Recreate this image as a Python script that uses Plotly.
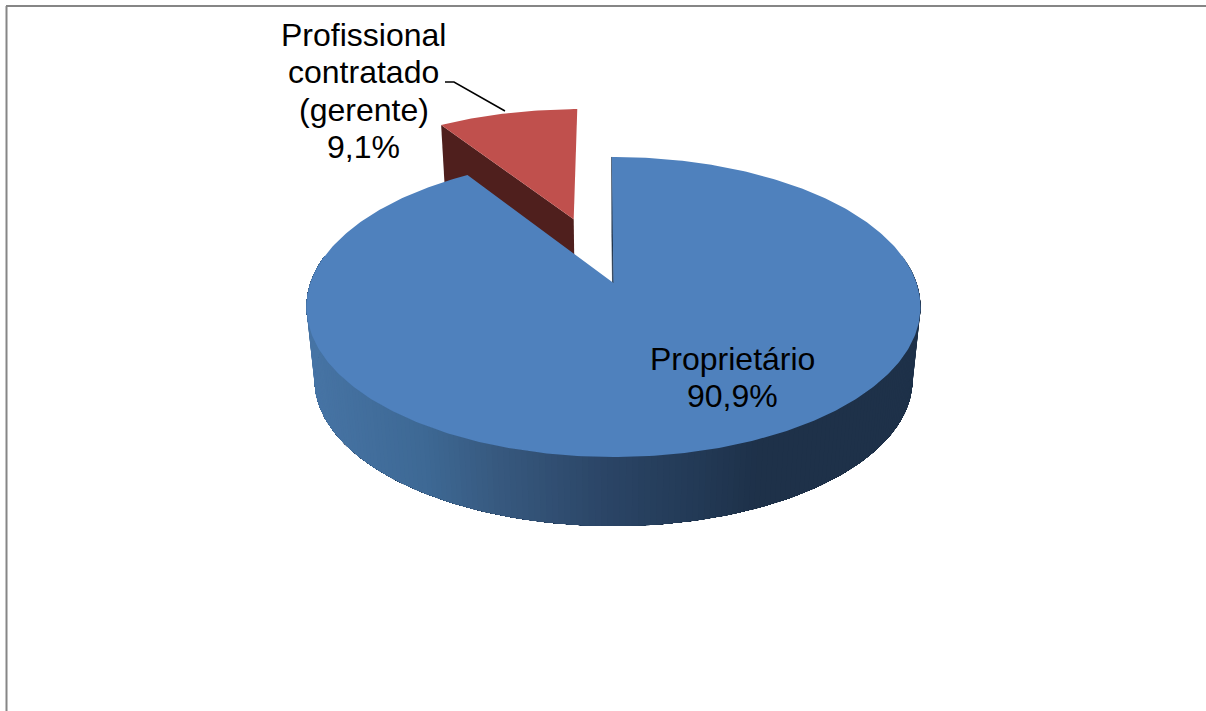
import numpy as np
import plotly.graph_objects as go

# Data
labels = ["Proprietário", "Profissional contratado (gerente)"]
label_lines = [["Proprietário", "90,9%"], ["Profissional", "contratado", "(gerente)", "9,1%"]]
values = [90.9, 9.1]
explode = [0.0, 0.49]
top_colors = ["#4f81bd", "#c0504d"]
side_colors = ["#1f334c", "#4f1f1d"]
label_x = [732, 363.5]
label_y = [[359, 396], [35, 72, 110, 147]]

# Gradient of the blue outer wall, by screen x
grad_x = [300, 330, 430, 500, 610, 700, 760, 930]
grad_rgb = [(72, 118, 168), (70, 115, 163), (62, 105, 149), (56, 90, 128), (43, 69, 102), (35, 58, 86), (30, 49, 73), (30, 49, 73)]

# Projection of the tilted pie
CX, CY, RX, RY, PERSP, DEPTH, BOTTOM_SCALE = 613.5, 283.0, 303.0, 146.2, 0.16, 73.5, 0.974
FIRST_ANGLE = -0.37


def project(u, v, low=False):
    u, v = np.asarray(u, float), np.asarray(v, float)
    d = 1 - PERSP * v
    s = BOTTOM_SCALE if low else 1.0
    return CX + s * RX * u / d, CY + (DEPTH if low else 0) + s * RY * v / d


def rim(theta_deg):
    t = np.radians(theta_deg)
    return np.sin(t), -np.cos(t)


fig = go.Figure()


def poly(x, y, color, lw=0):
    fig.add_trace(go.Scatter(x=list(x), y=list(y), mode="lines", fill="toself", fillcolor=color,
                             line=dict(color=color, width=lw), hoverinfo="skip", showlegend=False))


total = sum(values)
spans = []
a = FIRST_ANGLE
for val in values:
    spans.append((a, a + val / total * 360))
    a += val / total * 360


def wedge_offset(i):
    mid = sum(spans[i]) / 2
    mu, mv = rim(mid)
    return explode[i] * mu, explode[i] * mv


# Red slice: visible cut wall, then top
a0, a1 = spans[1]
ou, ov = wedge_offset(1)
ru, rv = rim(a0)
tx, ty = project([ou, ou + ru], [ov, ov + rv])
bx, by = project([ou, ou + ru], [ov, ov + rv], low=True)
poly([tx[0], tx[1], bx[1], bx[0]], [ty[0], ty[1], by[1], by[0]], side_colors[1])
th = np.linspace(a0, a1, 40)
ru3, rv3 = rim(th)
x3, y3 = project(np.r_[ou, ou + ru3], np.r_[ov, ov + rv3])
poly(x3, y3, top_colors[1])

# Blue slice: right wall, outer wall bands (painted over each other so no seams show), top
a0, a1 = spans[0]
ru, rv = rim(a0)
wx, wy = project([0, ru], [0, rv])
wbx, wby = project([0, ru], [0, rv], low=True)
poly([wx[0], wx[1], wbx[1], wbx[0]], [wy[0], wy[1], wby[1], wby[0]], side_colors[0], 0.7)
WALL_END = 281
edges = np.linspace(79, WALL_END, 203)
for e0 in edges[:-1]:
    th = np.linspace(e0, WALL_END, max(3, int((WALL_END - e0)) + 2))
    ru, rv = rim(th)
    xt, yt = project(ru, rv)
    xb, yb = project(ru, rv, low=True)
    col = [np.interp(xb[0], grad_x, [c[k] for c in grad_rgb]) for k in range(3)]
    color = "rgb(%d,%d,%d)" % tuple(col)
    poly(np.r_[xt, xb[::-1]], np.r_[yt, yb[::-1]], color)
th = np.linspace(a0, a1, 400)
ru, rv = rim(th)
x4, y4 = project(np.r_[0, ru], np.r_[0, rv])
poly(x4, y4, top_colors[0])

# Leader line
leader_x = [445, 454, 505]
leader_y = [82, 82, 111]
fig.add_trace(go.Scatter(x=leader_x, y=leader_y, mode="lines", line=dict(color="black", width=1.5),
                         hoverinfo="skip", showlegend=False))

# Labels
for lines, lx, ys in zip(label_lines, label_x, label_y):
    for line, ly in zip(lines, ys):
        fig.add_annotation(x=lx, y=ly, text=line, showarrow=False, xanchor="center", yanchor="middle",
                           font=dict(family="Liberation Sans, Arial, sans-serif", size=32, color="black"))

# Chart frame, running past the right and bottom of the picture
frame = dict(type="line", line=dict(color="#868686", width=2))
fig.add_shape(x0=6, x1=1300, y0=6, y1=6, **frame)
fig.add_shape(x0=6.5, x1=6.5, y0=6, y1=800, **frame)

fig.update_layout(width=1206, height=711, margin=dict(l=0, r=0, t=0, b=0), paper_bgcolor="white",
                  plot_bgcolor="white", showlegend=False,
                  xaxis=dict(range=[0, 1206], visible=False, fixedrange=True),
                  yaxis=dict(range=[711, 0], visible=False, fixedrange=True))
fig.write_html("out.html", config=dict(displayModeBar=False),
               post_script="document.body.style.margin='0';document.body.style.overflow='hidden';")
